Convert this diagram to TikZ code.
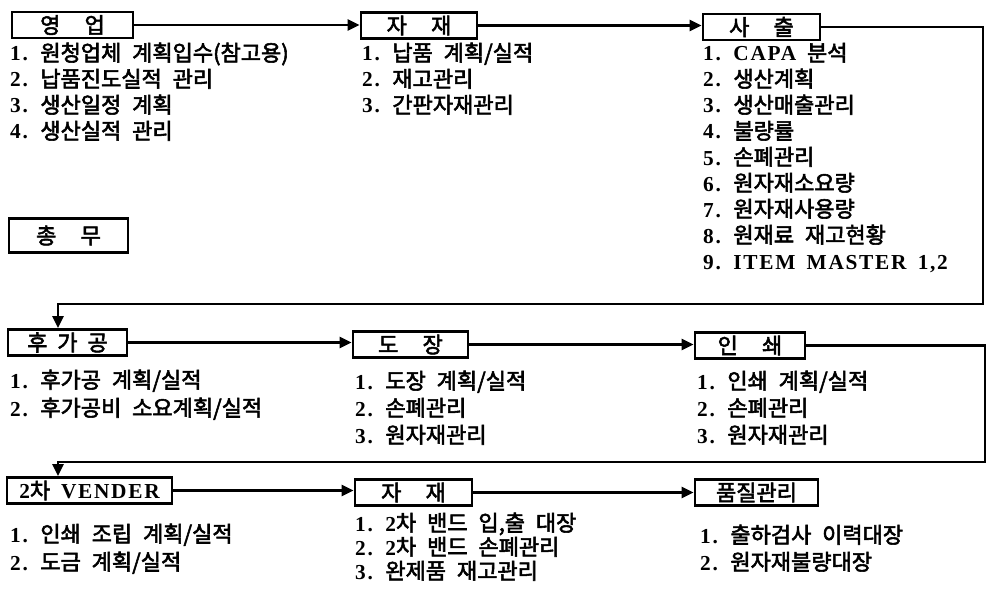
\documentclass[tikz,border=0pt]{standalone}
\usepackage{fontspec}
\setmainfont{Noto Sans CJK KR}[WordSpace=2.2,FakeBold=2.5]
\newfontfamily\latf{Liberation Serif}[Scale=0.97,LetterSpace=8,WordSpace=1.6]
\newcommand\La[1]{{\latf\bfseries #1}}
\usetikzlibrary{arrows.meta}
\begin{document}
\begin{tikzpicture}[x=1pt,y=-1pt,
  font=\fontsize{22}{22}\selectfont,
  box/.style={draw, line width=2.8pt, inner sep=0pt, minimum height=26pt},
  conn/.style={line width=2.4pt, -{Triangle[length=12pt,width=11pt]}},
  item/.style={anchor=base west, inner sep=0pt}]
\fill[white] (0,0) rectangle (989,594);
\useasboundingbox (0,0) rectangle (989,594);
% ---- boxes
\node[box, minimum width=121pt] (yeong)  at (72.5,25) {영\hspace{1.1em}업};
\node[box, minimum width=116pt] (jaj1)   at (419,25.5)    {자\hspace{1.1em}재};
\node[box, minimum width=117pt] (sachul) at (761.5,27)  {사\hspace{1.1em}출};
\node[box, minimum width=119pt, minimum height=34pt] (chong) at (68.5,235.5) {총\hspace{1.1em}무};
\node[box, minimum width=119pt] (huga)   at (67.5,342.5) {후\hspace{0.45em}가\hspace{0.45em}공};
\node[box, minimum width=115pt] (dojang) at (410.5,344.5) {도\hspace{1.1em}장};
\node[box, minimum width=110pt] (inswae) at (750,345.5)  {인\hspace{1.1em}쇄};
\node[box, minimum width=165pt] (vender) at (89.5,490.5) {\La{2}차 \La{VENDER}};
\node[box, minimum width=117pt] (jaj2)   at (413.5,492.5) {자\hspace{1.1em}재};
\node[box, minimum width=123pt] (pumjil) at (756.5,492.5) {품질관리};
% ---- connectors
\coordinate (r1) at (983,304);
\coordinate (l1) at (58,304);
\coordinate (r2) at (985,462);
\coordinate (l2) at (58,462);
\draw[conn] (yeong.east) -- (yeong.east -| jaj1.west);
\draw[conn] (jaj1.east) -- (jaj1.east -| sachul.west);
\draw[conn] (sachul.east) -| (r1) -- (l1) -- (l1 |- huga.north);
\draw[conn] (huga.east) -- (huga.east -| dojang.west);
\draw[conn] (dojang.east) -- (dojang.east -| inswae.west);
\draw[conn] (inswae.east) -| (r2) -- (l2) -- (l2 |- vender.north);
\draw[conn] (vender.east) -- (vender.east -| jaj2.west);
\draw[conn] (jaj2.east) -- (jaj2.east -| pumjil.west);
% ---- lists
\node[item] (a1) at (10,61)  {\La{1.} 원청업체 계획입수(참고용)};
\node[item] (a2) at (10,87)  {\La{2.} 납품진도실적 관리};
\node[item] (a3) at (10,113) {\La{3.} 생산일정 계획};
\node[item] (a4) at (10,139) {\La{4.} 생산실적 관리};
\node[item] (b1) at (362,61)  {\La{1.} 납품 계획/실적};
\node[item] (b2) at (362,87)  {\La{2.} 재고관리};
\node[item] (b3) at (362,113) {\La{3.} 간판자재관리};
\node[item] (c1) at (703,61)  {\La{1.} \La{CAPA} 분석};
\node[item] (c2) at (703,87)  {\La{2.} 생산계획};
\node[item] (c3) at (703,113) {\La{3.} 생산매출관리};
\node[item] (c4) at (703,139) {\La{4.} 불량률};
\node[item] (c5) at (703,165) {\La{5.} 손폐관리};
\node[item] (c6) at (703,191) {\La{6.} 원자재소요량};
\node[item] (c7) at (703,217) {\La{7.} 원자재사용량};
\node[item] (c8) at (703,243) {\La{8.} 원재료 재고현황};
\node[item] (c9) at (703,269) {\La{9.} \La{ITEM MASTER 1,2}};
\node[item] (d1) at (10,388)  {\La{1.} 후가공 계획/실적};
\node[item] (d2) at (10,416)  {\La{2.} 후가공비 소요계획/실적};
\node[item] (e1) at (355,389) {\La{1.} 도장 계획/실적};
\node[item] (e2) at (355,416) {\La{2.} 손폐관리};
\node[item] (e3) at (355,443) {\La{3.} 원자재관리};
\node[item] (f1) at (697,389) {\La{1.} 인쇄 계획/실적};
\node[item] (f2) at (697,416) {\La{2.} 손폐관리};
\node[item] (f3) at (697,443) {\La{3.} 원자재관리};
\node[item] (g1) at (10,542)  {\La{1.} 인쇄 조립 계획/실적};
\node[item] (g2) at (10,570)  {\La{2.} 도금 계획/실적};
\node[item] (h1) at (355,531) {\La{1.} \La{2}차 밴드 입,출 대장};
\node[item] (h2) at (355,555) {\La{2.} \La{2}차 밴드 손폐관리};
\node[item] (h3) at (355,579) {\La{3.} 완제품 재고관리};
\node[item] (i1) at (700,543) {\La{1.} 출하검사 이력대장};
\node[item] (i2) at (700,570) {\La{2.} 원자재불량대장};
\end{tikzpicture}
\end{document}
